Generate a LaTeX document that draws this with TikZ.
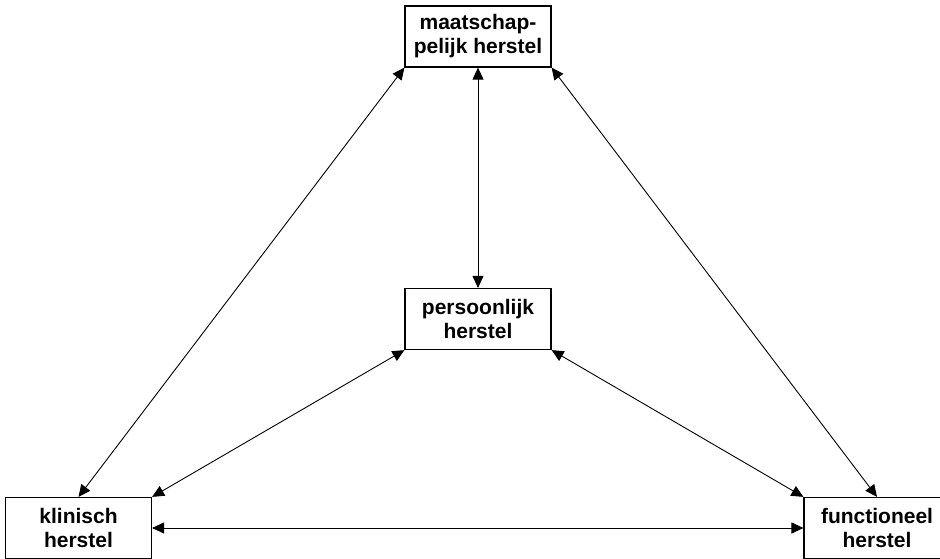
\documentclass[tikz,border=0pt]{standalone}
\usepackage{fontspec}
\setmainfont{Liberation Sans}
\usetikzlibrary{arrows.meta}
\begin{document}
\begin{tikzpicture}[x=1pt,y=-1pt,
  herstelbox/.style={draw, line width=1.2pt, fill=white, align=center,
    inner sep=0pt, minimum width=146pt, minimum height=61pt,
    font=\fontsize{21}{24}\selectfont\bfseries},
  link/.style={line width=0.9pt,
    {Triangle[length=12pt,width=11pt]}-{Triangle[length=12pt,width=11pt]}}]
  \useasboundingbox (0,0) rectangle (940,559);
  % the four kinds of recovery
  \node[herstelbox] (maat) at (478,36.5) {maatschap-\\pelijk herstel};
  \node[herstelbox] (pers) at (478,319) {persoonlijk\\herstel};
  \node[herstelbox] (klin) at (78.5,528) {klinisch\\herstel};
  \node[herstelbox] (func) at (877,528) {functioneel\\herstel};
  % mutual relations
  \draw[link] (maat.south) -- (pers.north);
  \draw[link] (maat.south west) -- (klin.north);
  \draw[link] (maat.south east) -- (func.north);
  \draw[link] (pers.south west) -- (klin.north east);
  \draw[link] (pers.south east) -- (func.north west);
  \draw[link] (klin.east) -- (func.west);
\end{tikzpicture}
\end{document}
